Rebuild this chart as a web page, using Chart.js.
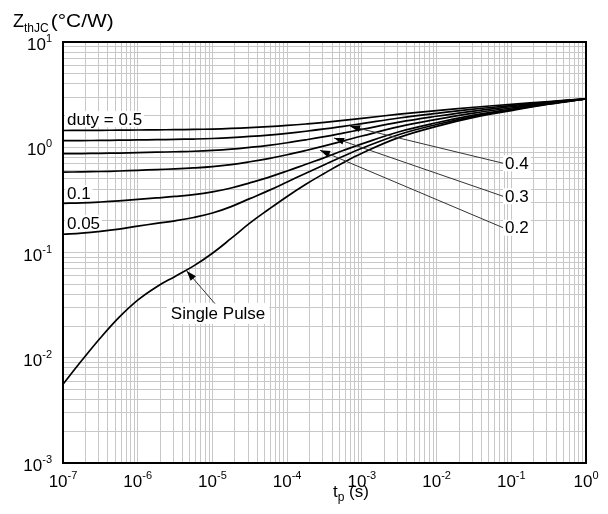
<!DOCTYPE html>
<html>
<head>
<meta charset="utf-8">
<script src="https://cdn.jsdelivr.net/npm/chart.js@4.4.1/dist/chart.umd.min.js"></script>
<style>
  html, body { margin: 0; padding: 0; background: #fff; }
</style>
</head>
<body>
<canvas id="zthChart" width="608" height="514"></canvas>
<script>
// pulse width tp (s)
const tp = [1e-7, 1.78e-7, 3.16e-7, 5.62e-7, 1e-6, 1.78e-6, 3.16e-6, 5.62e-6,
            1e-5, 1.78e-5, 3.16e-5, 5.62e-5, 1e-4, 1.78e-4, 3.16e-4, 5.62e-4,
            1e-3, 3.16e-3, 1e-2, 3.16e-2, 1e-1, 3.16e-1, 1];

// Zth (C/W) per duty cycle
const duty50 = [1.443, 1.445, 1.448, 1.452, 1.458, 1.464, 1.470, 1.477, 1.489, 1.508, 1.535, 1.568,
                1.611, 1.663, 1.723, 1.797, 1.879, 2.06, 2.23, 2.40, 2.555, 2.72, 2.88];
const duty40 = [1.155, 1.158, 1.161, 1.167, 1.173, 1.180, 1.188, 1.197, 1.211, 1.234, 1.266, 1.306,
                1.357, 1.419, 1.492, 1.58, 1.678, 1.896, 2.10, 2.304, 2.49, 2.688, 2.88];
const duty30 = [0.868, 0.871, 0.875, 0.881, 0.889, 0.897, 0.906, 0.916, 0.933, 0.959, 0.997, 1.043,
                1.103, 1.176, 1.26, 1.363, 1.478, 1.732, 1.97, 2.208, 2.425, 2.656, 2.88];
const duty20 = [0.580, 0.584, 0.588, 0.595, 0.604, 0.614, 0.623, 0.636, 0.655, 0.685, 0.728, 0.781,
                0.849, 0.932, 1.029, 1.146, 1.278, 1.568, 1.84, 2.112, 2.36, 2.624, 2.88];
const duty10 = [0.293, 0.296, 0.302, 0.310, 0.320, 0.330, 0.341, 0.355, 0.377, 0.410, 0.459, 0.518,
                0.595, 0.689, 0.797, 0.93, 1.077, 1.404, 1.71, 2.016, 2.295, 2.592, 2.88];
const duty05 = [0.149, 0.153, 0.159, 0.167, 0.178, 0.189, 0.200, 0.215, 0.237, 0.273, 0.325, 0.387,
                0.468, 0.567, 0.682, 0.821, 0.977, 1.322, 1.645, 1.968, 2.263, 2.576, 2.88];
const singlePulse = [0.0056, 0.0094, 0.0154, 0.0242, 0.0353, 0.0471, 0.0593, 0.0746, 0.0984, 0.136, 0.190, 0.256,
                     0.341, 0.445, 0.566, 0.713, 0.877, 1.24, 1.58, 1.92, 2.23, 2.56, 2.88];

// decade exponents used for tick labels
const xDecades = [-7, -6, -5, -4, -3, -2, -1, 0];
const yDecades = [-3, -2, -1, 0, 1];

// plain labels (data coords of left/middle anchor)
const plainLabels = [
    { text: 'duty = 0.5', x: 1.13e-7, y: 1.85 },
    { text: '0.1', x: 1.13e-7, y: 0.365 },
    { text: '0.05', x: 1.13e-7, y: 0.19 }
];
// labels with leader + arrow (anchor = label left/middle, tip = arrow point)
const arrowLabels = [
    { text: '0.4', x: 0.0826, y: 0.705, tipX: 6.95e-4, tipY: 1.585 },
    { text: '0.3', x: 0.0826, y: 0.342, tipX: 4.25e-4, tipY: 1.225 },
    { text: '0.2', x: 0.0826, y: 0.172, tipX: 2.75e-4, tipY: 0.937 }
];
const pulseLabel = { text: 'Single Pulse', x: 1.19e-5, y: 0.0267, fromX: 1.08e-5, fromY: 0.0327, tipX: 4.53e-6, tipY: 0.0667 };

const FONT = "'Liberation Sans', Arial, Helvetica, sans-serif";

function gridTicks(decades) {
    const out = [];
    for (let i = 0; i < decades.length; i++) {
        const d = decades[i];
        if (i === decades.length - 1) {
            out.push({ value: Math.pow(10, d) });
            break;
        }
        for (let m = 1; m <= 9; m++) {
            out.push({ value: m * Math.pow(10, d) });
        }
    }
    return out;
}

function drawPow(ctx, exp, x, baseY, align) {
    ctx.font = '17px ' + FONT;
    const wb = ctx.measureText('10').width;
    ctx.font = '11px ' + FONT;
    const we = ctx.measureText(exp).width;
    const total = wb + we;
    const left = align === 'center' ? x - total / 2 : x - total;
    ctx.textAlign = 'left';
    ctx.textBaseline = 'alphabetic';
    ctx.font = '17px ' + FONT;
    ctx.fillText('10', left, baseY);
    ctx.font = '11px ' + FONT;
    ctx.fillText(exp, left + wb, baseY - 8);
}

function arrowHead(ctx, fx, fy, tx, ty) {
    const ang = Math.atan2(ty - fy, tx - fx);
    const len = 10, half = 3.5;
    ctx.beginPath();
    ctx.moveTo(tx, ty);
    ctx.lineTo(tx - len * Math.cos(ang) + half * Math.sin(ang), ty - len * Math.sin(ang) - half * Math.cos(ang));
    ctx.lineTo(tx - len * Math.cos(ang) - half * Math.sin(ang), ty - len * Math.sin(ang) + half * Math.cos(ang));
    ctx.closePath();
    ctx.fill();
}

const decorations = {
    id: 'decorations',
    beforeDatasetsDraw(chart) {
        const ctx = chart.ctx;
        const xs = chart.scales.x, ys = chart.scales.y;
        ctx.save();
        ctx.font = '17px ' + FONT;
        ctx.textBaseline = 'middle';
        ctx.textAlign = 'left';
        plainLabels.concat(arrowLabels).forEach(l => {
            const px = xs.getPixelForValue(l.x), py = ys.getPixelForValue(l.y);
            const w = ctx.measureText(l.text).width;
            ctx.fillStyle = '#fff';
            ctx.fillRect(px - 2, py - 8, w + 4, 16);
            ctx.fillStyle = '#000';
            ctx.fillText(l.text, px, py + 1);
        });
        // single pulse label
        const sx = xs.getPixelForValue(pulseLabel.x), sy = ys.getPixelForValue(pulseLabel.y);
        const sw = ctx.measureText(pulseLabel.text).width;
        ctx.fillStyle = '#fff';
        ctx.fillRect(sx - sw / 2 - 4, sy - 10, sw + 8, 21);
        ctx.fillStyle = '#000';
        ctx.textAlign = 'center';
        ctx.fillText(pulseLabel.text, sx, sy + 1);
        ctx.restore();
    },
    afterDatasetsDraw(chart) {
        const ctx = chart.ctx;
        const xs = chart.scales.x, ys = chart.scales.y;
        const area = chart.chartArea;
        ctx.save();

        // leader lines and arrows
        ctx.strokeStyle = '#333';
        ctx.fillStyle = '#000';
        ctx.lineWidth = 1;
        arrowLabels.forEach(l => {
            const fx = xs.getPixelForValue(l.x) - 2, fy = ys.getPixelForValue(l.y);
            const tx = xs.getPixelForValue(l.tipX), ty = ys.getPixelForValue(l.tipY);
            ctx.beginPath();
            ctx.moveTo(fx, fy);
            ctx.lineTo(tx, ty);
            ctx.stroke();
            arrowHead(ctx, fx, fy, tx, ty);
        });
        const pfx = xs.getPixelForValue(pulseLabel.fromX), pfy = ys.getPixelForValue(pulseLabel.fromY);
        const ptx = xs.getPixelForValue(pulseLabel.tipX), pty = ys.getPixelForValue(pulseLabel.tipY);
        ctx.beginPath();
        ctx.moveTo(pfx, pfy);
        ctx.lineTo(ptx, pty);
        ctx.stroke();
        arrowHead(ctx, pfx, pfy, ptx, pty);

        // frame
        ctx.strokeStyle = '#000';
        ctx.lineWidth = 2;
        ctx.strokeRect(area.left, area.top, area.right - area.left, area.bottom - area.top);

        // tick labels
        ctx.fillStyle = '#000';
        xDecades.forEach(d => {
            drawPow(ctx, String(d), xs.getPixelForValue(Math.pow(10, d)), area.bottom + 24, 'center');
        });
        yDecades.forEach(d => {
            drawPow(ctx, String(d), 52, ys.getPixelForValue(Math.pow(10, d)) + 8, 'right');
        });

        // y title: Z_thJC (°C/W)
        ctx.textAlign = 'left';
        ctx.textBaseline = 'alphabetic';
        ctx.font = '18px ' + FONT;
        ctx.fillText('Z', 13, 27);
        const zw = ctx.measureText('Z').width;
        ctx.font = '12px ' + FONT;
        ctx.fillText('thJC', 13 + zw, 32);
        const sub = ctx.measureText('thJC').width;
        ctx.font = '18px ' + FONT;
        const unit = '(°C/W)';
        const uw = ctx.measureText(unit).width;
        ctx.save();
        ctx.translate(15 + zw + sub, 27);
        ctx.scale(63 / uw, 1);
        ctx.fillText(unit, 0, 0);
        ctx.restore();

        // x title: t_p (s)
        ctx.font = '17px ' + FONT;
        let tx0 = 333;
        ctx.fillText('t', tx0, 497);
        tx0 += ctx.measureText('t').width;
        ctx.font = '12px ' + FONT;
        ctx.fillText('p', tx0, 501);
        tx0 += ctx.measureText('p').width;
        ctx.font = '17px ' + FONT;
        ctx.fillText(' (s)', tx0, 497);

        ctx.restore();
    }
};

const seriesList = [duty50, duty40, duty30, duty20, duty10, duty05, singlePulse];

const ctx = document.getElementById('zthChart');
new Chart(ctx, {
    type: 'scatter',
    data: {
        datasets: seriesList.map(s => ({
            data: tp.map((t, i) => ({ x: t, y: s[i] })),
            showLine: true,
            borderColor: '#000',
            borderWidth: 1.7,
            pointRadius: 0,
            tension: 0.4,
            fill: false
        }))
    },
    options: {
        responsive: false,
        animation: false,
        devicePixelRatio: 1,
        layout: { padding: { left: 63, right: 22, top: 42, bottom: 51 } },
        plugins: { legend: { display: false }, tooltip: { enabled: false } },
        scales: {
            x: {
                type: 'logarithmic', min: 1e-7, max: 1,
                ticks: { display: false },
                grid: { color: '#c8c8c8', lineWidth: 1, drawTicks: false },
                border: { display: false },
                afterBuildTicks: axis => { axis.ticks = gridTicks(xDecades); }
            },
            y: {
                type: 'logarithmic', min: 1e-3, max: 10,
                ticks: { display: false },
                grid: { color: '#c8c8c8', lineWidth: 1, drawTicks: false },
                border: { display: false },
                afterBuildTicks: axis => { axis.ticks = gridTicks(yDecades); }
            }
        }
    },
    plugins: [decorations]
});
</script>
</body>
</html>
